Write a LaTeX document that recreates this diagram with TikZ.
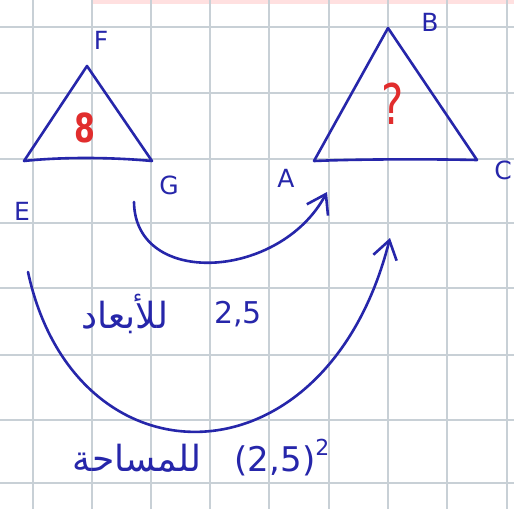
\documentclass[tikz,border=0pt]{standalone}
\usepackage{fontspec}
\setmainfont{DejaVu Sans}
\newfontfamily\arabicfont[Script=Arabic]{DejaVu Sans}
\TeXXeTstate=1
\usetikzlibrary{arrows.meta}
\definecolor{ink}{RGB}{38,38,170}
\definecolor{redink}{RGB}{225,45,45}
\definecolor{gridline}{RGB}{200,208,214}
\tikzset{
    ink/.style={draw=ink, line width=2.6pt, line cap=round, line join=round},
    lbl/.style={text=ink, font=\fontsize{25}{25}\selectfont},
    num/.style={text=ink, font=\fontsize{30}{30}\selectfont},
    arabic/.style={text=ink, font=\arabicfont\fontsize{36}{36}\selectfont},
    barb/.style={-{Straight Barb[length=18pt,width=24pt,line width=2.6pt]}},
}

\begin{document}
\begin{tikzpicture}[x=1pt,y=-1pt]
    \useasboundingbox (0,0) rectangle (514,509);
    \fill[white] (0,0) rectangle (514,509);
    \fill[red!12] (92,0) rectangle (514,4);
    \foreach \gx in {33,92,151,210,269,329,388,447,507}
        \draw[gridline, line width=1.6pt] (\gx,0)--(\gx,509);
    \foreach \gy in {27,93,159,223,288,355,420,483}
        \draw[gridline, line width=1.6pt] (0,\gy)--(514,\gy);
    % small triangle
    \coordinate (E) at (24,161);
    \coordinate (F) at (87,66);
    \coordinate (G) at (152,161);
    \draw[ink] (E)--(F)--(G) .. controls (110,157) and (60,157) .. (E);
    \node[text=redink, xscale=0.75, font=\bfseries\fontsize{40}{40}\selectfont] (areaS) at (85,128) {8};
    \node[lbl] (lblF) at (101,40) {F};
    \node[lbl] (lblE) at (22,211) {E};
    \node[lbl] (lblG) at (169,185) {G};
    % big triangle
    \coordinate (A) at (314,161);
    \coordinate (B) at (388,28);
    \coordinate (C) at (477,160);
    \draw[ink] (A)--(B)--(C) .. controls (430,159) and (360,159) .. (A);
    \node[text=redink, xscale=0.75, font=\fontsize{56}{56}\selectfont] (areaB) at (393,104) {?};
    \node[lbl] (lblB) at (430,22) {B};
    \node[lbl] (lblA) at (286,178) {A};
    \node[lbl] (lblC) at (503,170) {C};
    % arrows
    \coordinate (s1) at (134,202);
    \coordinate (t1) at (327,192);
    \draw[ink, barb] (s1) .. controls (135,288) and (280,280) .. (t1);
    \coordinate (s2) at (28,272);
    \coordinate (t2) at (390,238);
    \draw[ink, barb] (s2) .. controls (75,490) and (326,490) .. (t2);
    \node[arabic] (dims) at (125,314) {\beginR للأبعاد\endR};
    \node[num] (kdims) at (238,314) {2,5};
    \node[arabic] (area) at (137,458) {\beginR للمساحة\endR};
    \node[num, font=\fontsize{34}{34}\selectfont] (karea) at (282,458) {(2,5)\raisebox{16pt}{\fontsize{22}{22}\selectfont 2}};
\end{tikzpicture}
\end{document}
